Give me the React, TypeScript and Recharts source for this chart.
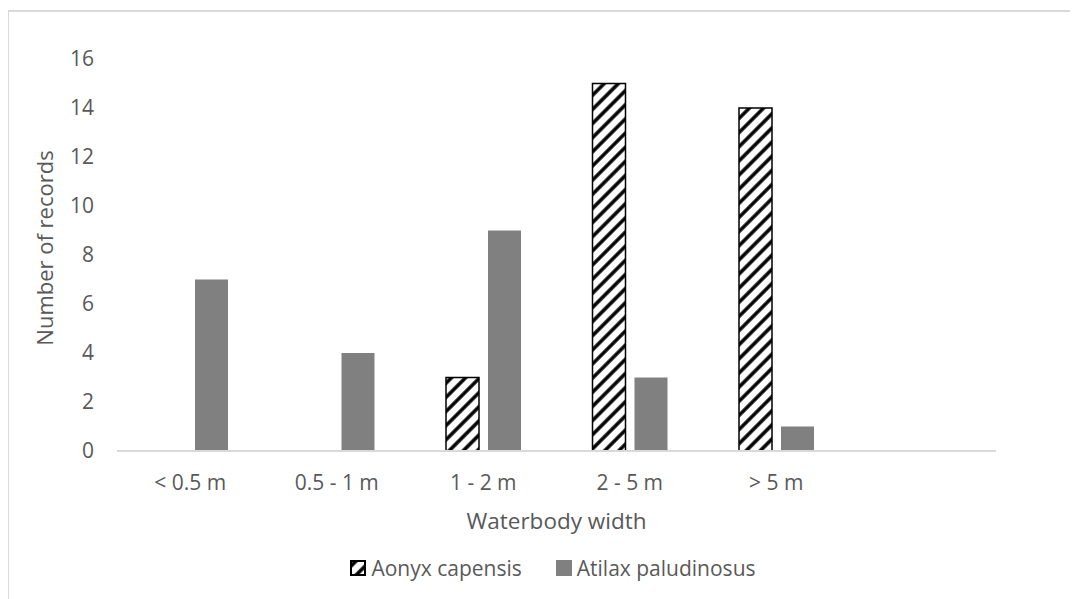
import React from "react"
import { BarChart, Bar, XAxis, YAxis, Legend, Label } from "recharts"

const widths = ["< 0.5 m", "0.5 - 1 m", "1 - 2 m", "2 - 5 m", "> 5 m", ""]
const aonyx = [0, 0, 3, 15, 14, null]
const atilax = [7, 4, 9, 3, 1, null]
const yTicks = [0, 2, 4, 6, 8, 10, 12, 14, 16]

const data = widths.map((w, i) => ({ w, aonyx: aonyx[i], atilax: atilax[i] }))

const FONT = "'Open Sans', sans-serif"
const TXT = "#595959"

function LegendBox() {
  return (
    <div style={{ display: "flex", justifyContent: "center", alignItems: "center", height: 30, paddingLeft: 102, fontFamily: FONT, fontSize: 21, color: TXT }}>
      <svg width={16} height={16} style={{ marginRight: 5 }}>
        <rect x={1} y={1} width={14} height={14} fill="url(#hatch)" stroke="#000" strokeWidth={2} />
      </svg>
      <span style={{ marginRight: 34 }}>Aonyx capensis</span>
      <svg width={16} height={16} style={{ marginRight: 5 }}>
        <rect x={0} y={0} width={16} height={16} fill="#808080" />
      </svg>
      <span>Atilax paludinosus</span>
    </div>
  )
}

export default function App() {
  return (
    <div style={{ position: "relative", width: 1070, height: 591 }}>
      <div style={{ position: "absolute", left: -1, top: 2, right: 0, bottom: 0, borderLeft: "2px solid #d9d9d9", borderTop: "2px solid #d9d9d9" }} />
      <BarChart width={1070} height={591} data={data} margin={{ top: 51, right: 82, left: 0, bottom: 16 }} barSize={33} barGap={9}>
        <defs>
          <pattern id="hatch" patternUnits="userSpaceOnUse" width={10} height={10} patternTransform="rotate(45)">
            <rect width={10} height={10} fill="#fff" />
            <line x1={5} y1={0} x2={5} y2={10} stroke="#000" strokeWidth={3.5} />
          </pattern>
        </defs>
        <XAxis
          dataKey="w"
          height={102}
          interval={0}
          tickLine={false}
          tickSize={0}
          tickMargin={24}
          stroke="#d9d9d9"
          strokeWidth={2}
          tick={{ fill: TXT, fontSize: 21, fontFamily: FONT }}
        >
          <Label
            content={({ viewBox }: any) => (
              <text x={viewBox.x + viewBox.width / 2} y={viewBox.y + 69} textAnchor="middle" dominantBaseline="central" fill={TXT} fontSize={22.5} fontFamily={FONT}>
                Waterbody width
              </text>
            )}
          />
        </XAxis>
        <YAxis
          width={109}
          domain={[0, 16]}
          ticks={yTicks}
          axisLine={false}
          tickLine={false}
          tickSize={0}
          tickMargin={23}
          tick={{ fill: TXT, fontSize: 21, fontFamily: FONT }}
        >
          <Label
            content={({ viewBox }: any) => {
              const cx = 36
              const cy = viewBox.y + viewBox.height / 2 - 7
              return (
                <text x={cx} y={cy} transform={`rotate(-90 ${cx} ${cy})`} textAnchor="middle" dominantBaseline="central" fill={TXT} fontSize={22} fontFamily={FONT}>
                  Number of records
                </text>
              )
            }}
          />
        </YAxis>
        <Legend verticalAlign="bottom" content={() => <LegendBox />} />
        <Bar dataKey="aonyx" name="Aonyx capensis" fill="url(#hatch)" stroke="#000" strokeWidth={1.5} isAnimationActive={false} />
        <Bar dataKey="atilax" name="Atilax paludinosus" fill="#808080" isAnimationActive={false} />
      </BarChart>
    </div>
  )
}
